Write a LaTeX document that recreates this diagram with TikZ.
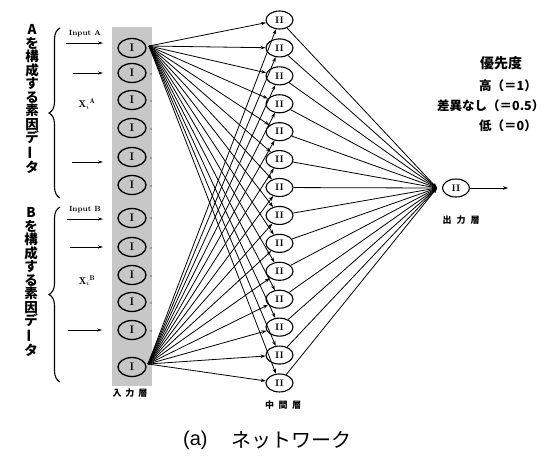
\documentclass[tikz,border=0pt]{standalone}
\usepackage{fontspec}
\newfontfamily\cjk{Noto Sans CJK JP}
\newfontfamily\capfont{Liberation Sans}
\usetikzlibrary{shapes.geometric,arrows.meta,decorations.pathreplacing}
\newcommand\vbar{\rotatebox[origin=c]{90}{ー}}
\begin{document}
\begin{tikzpicture}[x=1pt,y=-1pt,
  inode/.style={ellipse,draw,line width=1.3pt,minimum width=28pt,minimum height=19pt,inner sep=0pt,font=\bfseries\fontsize{11}{11}\selectfont},
  mnode/.style={ellipse,draw,line width=1.1pt,minimum width=27pt,minimum height=18pt,inner sep=0pt,font=\bfseries\fontsize{9.5}{9.5}\selectfont},
  arr/.style={line width=0.8pt,-{Stealth[length=5pt,width=3.5pt]}},
  inarr/.style={line width=0.9pt,-{Stealth[length=5pt,width=3pt]}},
  lbl/.style={font=\cjk\bfseries\fontsize{9}{9}\selectfont,inner sep=0pt},
  vtext/.style={align=center,font=\cjk\bfseries\fontsize{13.5}{13.5}\selectfont,inner sep=0pt},
  rtext/.style={anchor=west,font=\cjk\bfseries\fontsize{12.5}{12.5}\selectfont,inner sep=0pt},
  small/.style={font=\bfseries\fontsize{7.5}{7.5}\selectfont,inner sep=0pt},
  bracestyle/.style={decorate,decoration={brace,amplitude=11pt},line width=1.1pt}
]
\useasboundingbox (0,0) rectangle (545,458);
% shaded input column
\fill[black!22] (112,27) rectangle (152,386);
% input nodes
\foreach \y [count=\i] in {48,73,100,128,157,185,218,247,275,302,330,367}
  \node[inode] (i\i) at (132,\y) {I};
\foreach \y in {74,101,129,158,186,218,248,276,303,331}
  \fill (151,\y) circle (0.7);
% middle nodes
\foreach \i in {1,...,14}
  \node[mnode] (m\i) at (279.5,{20+27.92*(\i-1)}) {II};
% output
\node[mnode] (out) at (456,188) {II};
\coordinate (conv) at (437,188);
\coordinate (oend) at (508,188);
\draw[arr] (out) -- (oend);
% fans
\coordinate (f1) at (149,46);
\coordinate (f12) at (148,364);
\foreach \i in {1,...,14} {
  \draw[arr] (f1) -- (m\i);
  \draw[arr] (f12) -- (m\i);
  \draw[arr] (m\i) -- (conv);
}
% input arrows
\coordinate (a1s) at (66,43);  \coordinate (a1e) at (103,43);
\coordinate (a2s) at (73,73);  \coordinate (a2e) at (103,73);
\coordinate (a3s) at (72,162); \coordinate (a3e) at (103,162);
\coordinate (b1s) at (67,219); \coordinate (b1e) at (103,219);
\coordinate (b2s) at (70,247); \coordinate (b2e) at (103,247);
\coordinate (b3s) at (68,330); \coordinate (b3e) at (102,330);
\foreach \p in {a1,a2,a3,b1,b2,b3} \draw[inarr] (\p s) -- (\p e);
\node[small] (ina) at (85,34) {Input A};
\node[small] (inb) at (85,210) {Input B};
\node[inner sep=0pt,font=\fontsize{10}{10}\selectfont] (xa) at (87,104) {$\mathbf{X}_{i}{}^{\mathbf{A}}$};
\node[inner sep=0pt,font=\fontsize{10}{10}\selectfont] (xb) at (87,281) {$\mathbf{X}_{i}{}^{\mathbf{B}}$};
% braces
\coordinate (bat) at (60,28); \coordinate (bab) at (60,198);
\coordinate (bbt) at (60,207); \coordinate (bbb) at (60,382);
\draw[bracestyle] (bab) -- (bat);
\draw[bracestyle] (bbb) -- (bbt);
% vertical texts
\node[vtext] (va) at (32,99) {A\\を\\構\\成\\す\\る\\素\\因\\デ\\\vbar\\タ};
\node[vtext] (vb) at (31,282) {B\\を\\構\\成\\す\\る\\素\\因\\デ\\\vbar\\タ};
% layer labels
\node[lbl] (lin) at (130,393) {入\hspace{4pt}力\hspace{4pt}層};
\node[lbl] (lmid) at (283,405) {中\hspace{4.5pt}間\hspace{4.5pt}層};
\node[lbl] (lout) at (461,220) {出\hspace{5pt}力\hspace{5pt}層};
% priority text
\node[rtext,font=\cjk\bfseries\fontsize{14}{14}\selectfont] (p0) at (480,63) {優先度};
\node[rtext] (p1) at (479,86) {高（＝1）};
\node[rtext] (p2) at (437,106) {差異なし（＝0.5）};
\node[rtext] (p3) at (479,126) {低（＝0）};
% caption
\node[anchor=west,inner sep=0pt,font=\capfont\fontsize{20}{20}\selectfont] (capa) at (183,440) {(a)};
\node[anchor=west,inner sep=0pt,font=\cjk\fontsize{20}{20}\selectfont] (capb) at (231,440) {ネットワーク};
\end{tikzpicture}
\end{document}
